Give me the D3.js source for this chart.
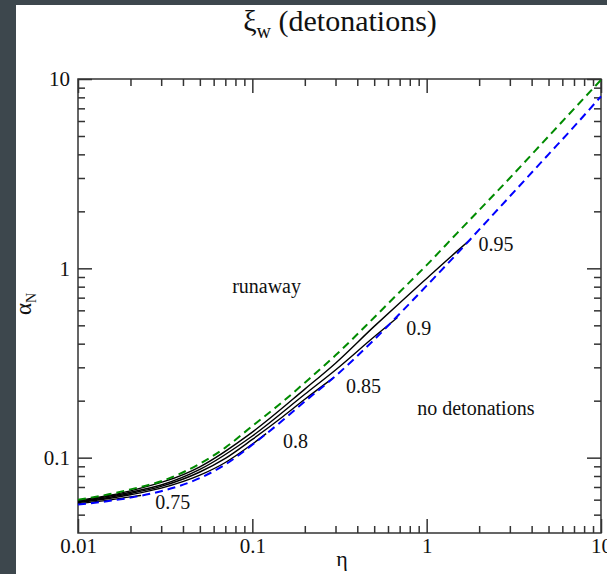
<!DOCTYPE html>
<html>
<head>
<meta charset="utf-8">
<script src="https://cdn.jsdelivr.net/npm/d3@7"></script>
<style>
body { margin: 0; background: #3d474d; }
svg { display: block; }
svg text { font-family: "Liberation Serif", "DejaVu Serif", serif; fill: #111; }
</style>
</head>
<body>
<div id="vis"><svg></svg></div>
<script>
// sampled eta values shared by the two dashed boundaries
var boundaryEta = [0.01, 0.015, 0.02, 0.03, 0.05, 0.07, 0.1, 0.15, 0.2, 0.3, 0.5, 0.7, 1, 1.5, 2, 3, 5, 7, 10];
var runawayAlpha = [0.060, 0.064, 0.068, 0.075, 0.093, 0.113, 0.147, 0.198, 0.249, 0.347, 0.55, 0.75, 1.04, 1.54, 2.03, 3.0, 4.98, 6.95, 9.9];
var jouguetAlpha = [0.0565, 0.059, 0.0615, 0.0665, 0.078, 0.092, 0.117, 0.158, 0.198, 0.27, 0.42, 0.575, 0.81, 1.2, 1.6, 2.4, 4.0, 5.6, 8.1];

// constant wall velocity curves
var xiNames = ["0.75", "0.8", "0.85", "0.9", "0.95"];
var xi075Eta = [0.01, 0.015, 0.02, 0.023];
var xi075Alpha = [0.0572, 0.0597, 0.0621, 0.0632];
var xi08Eta = [0.01, 0.02, 0.03, 0.05, 0.07, 0.1, 0.12];
var xi08Alpha = [0.0579, 0.0637, 0.0690, 0.0808, 0.0943, 0.1180, 0.134];
var xi085Eta = [0.01, 0.02, 0.03, 0.05, 0.07, 0.1, 0.15, 0.2, 0.29];
var xi085Alpha = [0.0584, 0.0647, 0.0705, 0.0840, 0.0991, 0.1248, 0.1650, 0.2033, 0.263];
var xi09Eta = [0.01, 0.02, 0.03, 0.05, 0.1, 0.2, 0.3, 0.5, 0.68];
var xi09Alpha = [0.0589, 0.0657, 0.0717, 0.0867, 0.1302, 0.2163, 0.2905, 0.4349, 0.55];
var xi095Eta = [0.01, 0.02, 0.05, 0.1, 0.2, 0.3, 0.5, 0.7, 1, 1.5, 1.78];
var xi095Alpha = [0.0595, 0.0668, 0.0895, 0.1365, 0.2301, 0.3156, 0.4937, 0.6567, 0.8841, 1.2366, 1.42];

// ticks
var xMajor = [0.01, 0.1, 1, 10];
var xMajorLabels = ["0.01", "0.1", "1", "10"];
var yMajor = [0.1, 1, 10];
var yMajorLabels = ["0.1", "1", "10"];
var xMinor = [0.02, 0.03, 0.04, 0.05, 0.06, 0.07, 0.08, 0.09, 0.2, 0.3, 0.4, 0.5, 0.6, 0.7, 0.8, 0.9, 2, 3, 4, 5, 6, 7, 8, 9];
var yMinor = [0.05, 0.06, 0.07, 0.08, 0.09, 0.2, 0.3, 0.4, 0.5, 0.6, 0.7, 0.8, 0.9, 2, 3, 4, 5, 6, 7, 8, 9];

var W = 607, H = 574;
var pLeft = 78, pRight = 601, pTop = 79, pBottom = 533;
var serif = "Liberation Serif, DejaVu Serif, serif";

var svg = d3.select("#vis").select("svg")
    .attr("width", W)
    .attr("height", H);

// white page area
svg.append("rect")
    .attr("x", 16).attr("y", 5)
    .attr("width", W - 16).attr("height", H - 5)
    .attr("fill", "white");

var x = d3.scaleLog().domain([0.01, 10]).range([pLeft, pRight]);
var y = d3.scaleLog().domain([0.04, 10]).range([pBottom, pTop]);

function zip(etas, alphas) {
  return etas.map(function(e, i) { return {eta: e, alpha: alphas[i]}; });
}

var line = d3.line()
    .x(function(d) { return x(d.eta); })
    .y(function(d) { return y(d.alpha); })
    .curve(d3.curveMonotoneX);

function cleanAxis(g) {
  g.attr("font-family", serif);
  g.select(".domain").remove();
  g.selectAll(".tick line").attr("stroke", "#333").attr("stroke-width", 1.5);
  g.selectAll(".tick text").attr("font-size", 21).attr("font-family", serif).attr("fill", "#111");
}

// minor ticks on all four sides
svg.append("g").attr("transform", "translate(0," + pBottom + ")")
  .call(d3.axisBottom(x).tickValues(xMinor).tickSizeInner(-7).tickSizeOuter(0).tickFormat(""))
  .call(cleanAxis);
svg.append("g").attr("transform", "translate(0," + pTop + ")")
  .call(d3.axisTop(x).tickValues(xMinor).tickSizeInner(-7).tickSizeOuter(0).tickFormat(""))
  .call(cleanAxis);
svg.append("g").attr("transform", "translate(" + pLeft + ",0)")
  .call(d3.axisLeft(y).tickValues(yMinor).tickSizeInner(-7).tickSizeOuter(0).tickFormat(""))
  .call(cleanAxis);
svg.append("g").attr("transform", "translate(" + pRight + ",0)")
  .call(d3.axisRight(y).tickValues(yMinor).tickSizeInner(-7).tickSizeOuter(0).tickFormat(""))
  .call(cleanAxis);

// major ticks with labels
svg.append("g").attr("transform", "translate(0," + pBottom + ")")
  .call(d3.axisBottom(x).tickValues(xMajor).tickSizeInner(-14).tickSizeOuter(0).tickPadding(5)
    .tickFormat(function(d, i) { return xMajorLabels[i]; }))
  .call(cleanAxis);
svg.append("g").attr("transform", "translate(0," + pTop + ")")
  .call(d3.axisTop(x).tickValues(xMajor).tickSizeInner(-14).tickSizeOuter(0).tickFormat(""))
  .call(cleanAxis);
svg.append("g").attr("transform", "translate(" + pLeft + ",0)")
  .call(d3.axisLeft(y).tickValues(yMajor).tickSizeInner(-14).tickSizeOuter(0).tickPadding(8)
    .tickFormat(function(d, i) { return yMajorLabels[i]; }))
  .call(cleanAxis);
svg.append("g").attr("transform", "translate(" + pRight + ",0)")
  .call(d3.axisRight(y).tickValues(yMajor).tickSizeInner(-14).tickSizeOuter(0).tickFormat(""))
  .call(cleanAxis);

// frame
svg.append("rect")
    .attr("x", pLeft).attr("y", pTop)
    .attr("width", pRight - pLeft).attr("height", pBottom - pTop)
    .attr("fill", "none")
    .attr("stroke", "#333")
    .attr("stroke-width", 1.5);

var plot = svg.append("g");

// solid curves
var xiCurves = [
  zip(xi075Eta, xi075Alpha),
  zip(xi08Eta, xi08Alpha),
  zip(xi085Eta, xi085Alpha),
  zip(xi09Eta, xi09Alpha),
  zip(xi095Eta, xi095Alpha)
];
plot.selectAll("xiLines")
  .data(xiCurves)
  .enter()
  .append("path")
    .attr("d", line)
    .attr("fill", "none")
    .attr("stroke", "black")
    .attr("stroke-width", 1.4);

// dashed boundaries
plot.append("path")
    .attr("d", line(zip(boundaryEta, jouguetAlpha)))
    .attr("fill", "none")
    .attr("stroke", "#0000ff")
    .attr("stroke-width", 2)
    .attr("stroke-dasharray", "8,5");
plot.append("path")
    .attr("d", line(zip(boundaryEta, runawayAlpha)))
    .attr("fill", "none")
    .attr("stroke", "#008b00")
    .attr("stroke-width", 2)
    .attr("stroke-dasharray", "8,5");

// curve labels
var labelEta = [0.0277, 0.150, 0.345, 0.763, 1.98];
var labelAlpha = [0.0538, 0.113, 0.220, 0.446, 1.237];
svg.selectAll("xiLabels")
  .data(xiNames)
  .enter()
  .append("text")
    .attr("x", function(d, i) { return x(labelEta[i]); })
    .attr("y", function(d, i) { return y(labelAlpha[i]); })
    .attr("font-family", serif)
    .attr("font-size", 20)
    .text(function(d) { return d; });

svg.append("text")
    .attr("x", x(0.0766)).attr("y", y(0.743))
    .attr("font-family", serif)
    .attr("font-size", 20)
    .text("runaway");
svg.append("text")
    .attr("x", x(0.883)).attr("y", y(0.167))
    .attr("font-family", serif)
    .attr("font-size", 20)
    .text("no detonations");

// title
var title = svg.append("text")
    .attr("x", 340).attr("y", 31)
    .attr("text-anchor", "middle")
    .attr("font-family", serif)
    .attr("font-size", 30);
title.append("tspan").text("\u03be");
title.append("tspan").attr("dy", 7).attr("font-size", 20).text("w");
title.append("tspan").attr("dy", -7).text(" (detonations)");

// axis titles
svg.append("text")
    .attr("x", 342).attr("y", 566)
    .attr("text-anchor", "middle")
    .attr("font-family", serif)
    .attr("font-size", 22)
    .text("\u03b7");

var ylab = svg.append("text")
    .attr("transform", "translate(31,304) rotate(-90)")
    .attr("text-anchor", "middle")
    .attr("font-family", serif)
    .attr("font-size", 23);
ylab.append("tspan").text("\u03b1");
ylab.append("tspan").attr("dy", 5).attr("font-size", 14).text("N");
</script>
</body>
</html>
